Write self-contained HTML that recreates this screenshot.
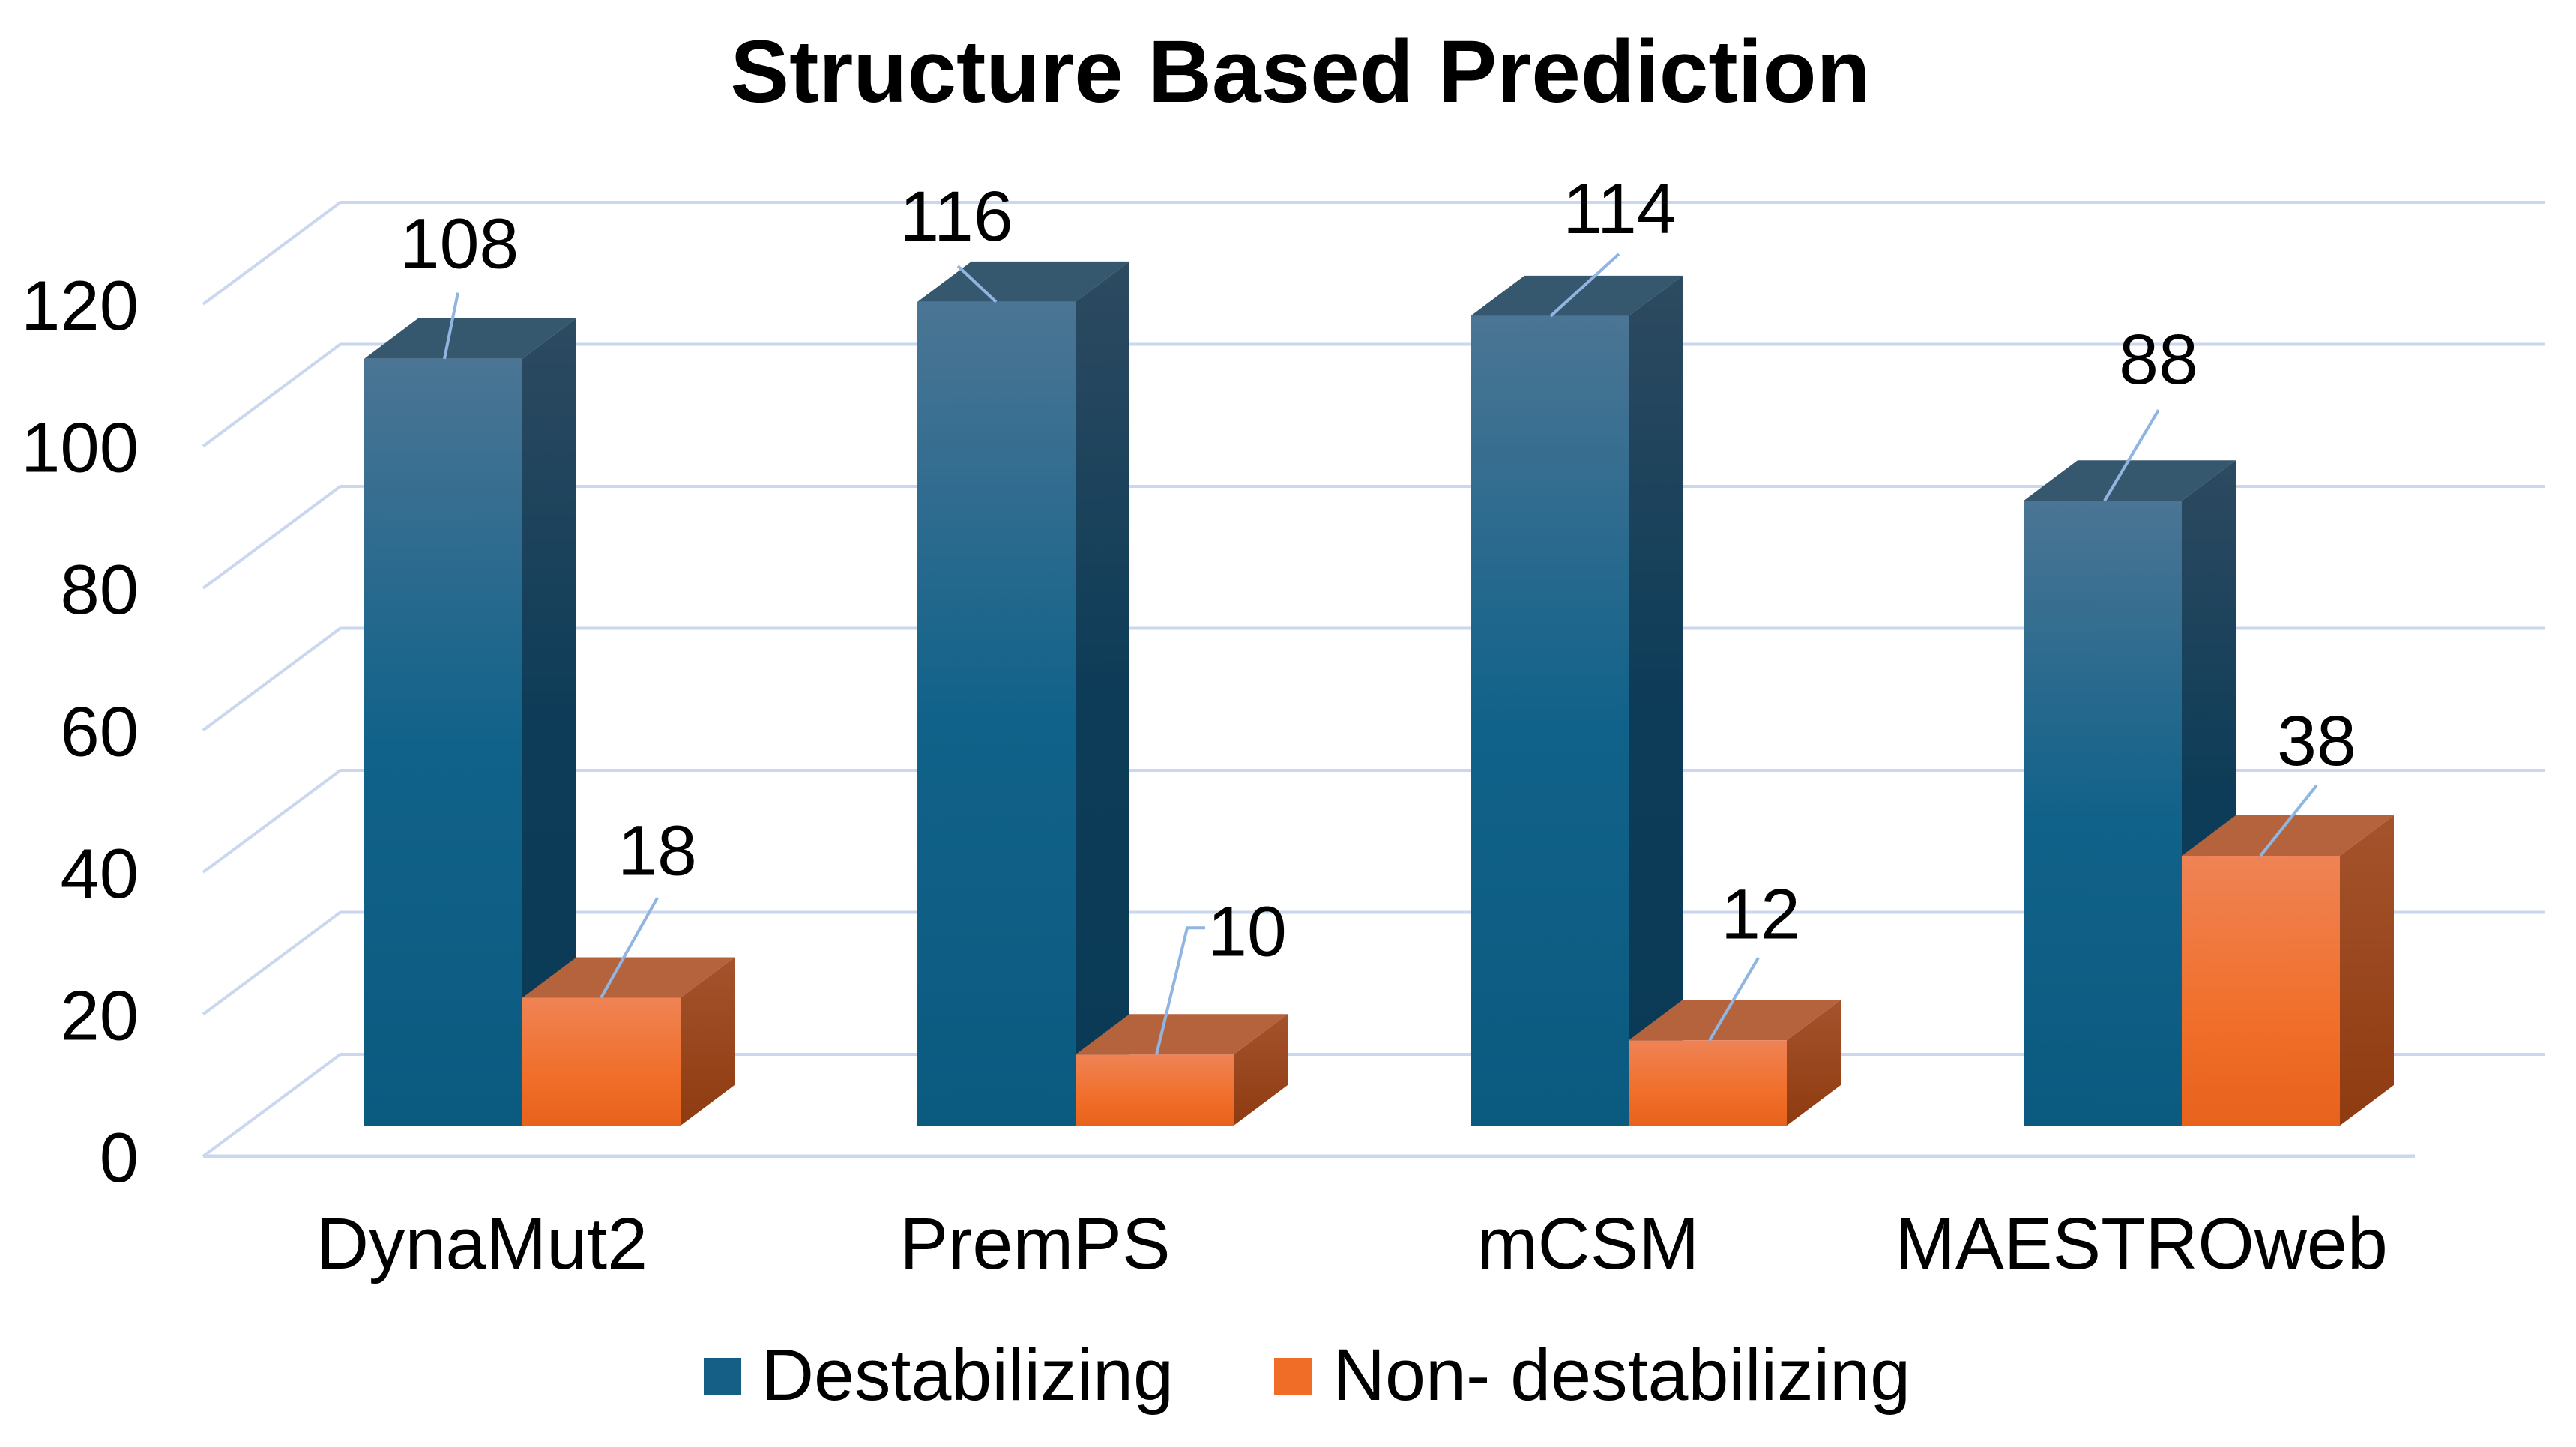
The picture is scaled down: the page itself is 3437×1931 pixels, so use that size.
<!DOCTYPE html>
<html><head><meta charset="utf-8"><style>
html,body{margin:0;padding:0;background:#fff;}
svg{display:block;font-family:"Liberation Sans",Arial,sans-serif;}
</style></head><body>
<svg id="chart" width="3437" height="1931" viewBox="0 0 3437 1931" xmlns="http://www.w3.org/2000/svg">
<defs>
<linearGradient id="gBlueF" x1="0" y1="0" x2="0" y2="1"><stop offset="0" stop-color="#4b7594"/><stop offset="0.5" stop-color="#11628a"/><stop offset="1" stop-color="#0b5a80"/></linearGradient>
<linearGradient id="gBlueS" x1="0" y1="0" x2="0" y2="1"><stop offset="0" stop-color="#2d4a60"/><stop offset="0.5" stop-color="#0d3c58"/><stop offset="1" stop-color="#093a56"/></linearGradient>
<linearGradient id="gOrF" x1="0" y1="0" x2="0" y2="1"><stop offset="0" stop-color="#ef8355"/><stop offset="0.6" stop-color="#f06f2a"/><stop offset="1" stop-color="#e8621c"/></linearGradient>
<linearGradient id="gOrS" x1="0" y1="0" x2="0" y2="1"><stop offset="0" stop-color="#a5532c"/><stop offset="1" stop-color="#8e3b11"/></linearGradient>
</defs>
<text x="1735" y="136" font-size="118" font-weight="bold" text-anchor="middle">Structure Based Prediction</text>
<g id="grid"></g>
<g id="yaxis"></g>
<g id="bars"></g>
<g id="xaxis"></g>
<g>
<g>
<rect x="939" y="1812" width="50" height="50" fill="#155f86"/>
<text x="1016" y="1868" font-size="97">Destabilizing</text>
</g>
<g>
<rect x="1700" y="1812" width="50" height="50" fill="#f06d28"/>
<text x="1778" y="1868" font-size="97">Non- destabilizing</text>
</g>
</g>
</svg>
<script>
const categories = ["DynaMut2", "PremPS", "mCSM", "MAESTROweb"];
const destabilizing = [108, 116, 114, 88];
const nonDestabilizing = [18, 10, 12, 38];
const yTicks = [0, 20, 40, 60, 80, 100, 120];
// layout (pixel offsets of labels relative to bar front-left/top)
const labelOffBlue = [[127,-156,125,-88,107],[52,-117,54,-48,105],[199,-146,198,-83,107],[180,-191,180,-121,108]];
const labelOffOr = [[180,-199,180,-133,105],[229,-167,149,-169,108],[176,-171,173,-110,108],[180,-156,180,-94,105]];

const NS = "http://www.w3.org/2000/svg";
const PER = 9.475;
const frontFloor = 1543, backFloor = 1407, barBase = 1502;
const frontX0 = 271, backX0 = 454, backX1 = 3395, frontX1 = 3222;
const barW = 211, dX = 72, dY = 54;
function yFront(v){ return frontFloor - v*PER; }
function yBack(v){ return backFloor - v*PER; }
function yBar(v){ return barBase - v*PER; }
function xGroup(i){ return 697 + i*738; }
function mk(tag, attrs, parent){ const e=document.createElementNS(NS,tag); for(const k in attrs) e.setAttribute(k,attrs[k]); parent.appendChild(e); return e; }

const grid = document.getElementById('grid');
const yaxis = document.getElementById('yaxis');
yTicks.forEach(v=>{
  const p = mk('polyline',{points:`${frontX0},${yFront(v)} ${backX0},${yBack(v)} ${backX1},${yBack(v)}`,fill:'none',stroke:'#c9d7ef','stroke-width':4},grid);
  
  
  const t = mk('text',{x:185,y:yFront(v)+34,'font-size':94,'text-anchor':'end'},yaxis);
  
  
  t.textContent = v;
});
const fl = mk('line',{x1:frontX0,y1:frontFloor,x2:frontX1,y2:frontFloor,stroke:'#c9d7ef','stroke-width':5},grid);



const bars = document.getElementById('bars');
function drawBar(x, v, front, side, top, name, off){
  const g = mk('g',{},bars);
  
  
  const yt = yBar(v);
  mk('polygon',{points:`${x+barW},${yt} ${x+barW+dX},${yt-dY} ${x+barW+dX},${barBase-dY} ${x+barW},${barBase}`,fill:side},g);
  mk('polygon',{points:`${x},${yt} ${x+dX},${yt-dY} ${x+barW+dX},${yt-dY} ${x+barW},${yt}`,fill:top},g);
  mk('rect',{x:x,y:yt,width:barW,height:barBase-yt,fill:front},g);
  let pts;
  if(name.indexOf('premps-non')>=0){
    pts = `${x+off[2]+24},${yt+off[3]} ${x+off[2]},${yt+off[3]} ${x+off[4]},${yt}`;
  } else {
    pts = `${x+off[2]},${yt+off[3]} ${x+off[4]},${yt}`;
  }
  const ld = mk('polyline',{points:pts,fill:'none',stroke:'#8fb5e0','stroke-width':4},g);
  
  
  const t = mk('text',{x:x+off[0],y:yt+off[1]+35,'font-size':95,'text-anchor':'middle'},g);
  
  
  t.textContent = v;
}
const xaxis = document.getElementById('xaxis');
categories.forEach((c,i)=>{
  const b = xGroup(i);
  const slug = c.toLowerCase();
  drawBar(b-barW, destabilizing[i], 'url(#gBlueF)', 'url(#gBlueS)', '#36586f', 'bar-'+slug+'-destabilizing', labelOffBlue[i]);
  drawBar(b, nonDestabilizing[i], 'url(#gOrF)', 'url(#gOrS)', '#b5633c', 'bar-'+slug+'-non-destabilizing', labelOffOr[i]);
  const t = mk('text',{x:b-54,y:1693,'font-size':97,'text-anchor':'middle'},xaxis);
  
  
  t.textContent = c;
});
</script>
</body></html>
